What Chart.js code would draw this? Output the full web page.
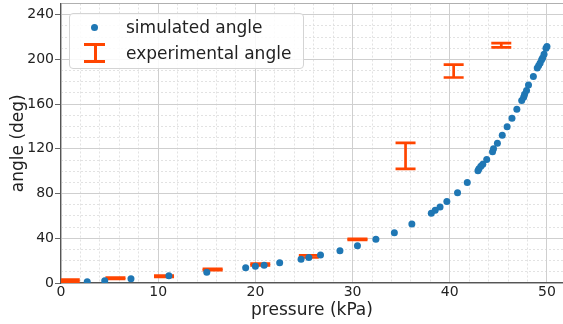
<!DOCTYPE html>
<html>
<head>
<meta charset="utf-8">
<script src="https://cdn.jsdelivr.net/npm/chart.js@4/dist/chart.umd.min.js"></script>
<style>
  body { margin: 0; background: #fff; }
  #wrap { position: relative; width: 563px; height: 324px; }
  #legend {
    position: absolute; left: 69px; top: 13px; width: 233px; height: 54px;
    border: 1px solid #d4d4d4; border-radius: 4px; background: rgba(255,255,255,0.85);
    font-family: 'DejaVu Sans', sans-serif; font-size: 17px; color: #222;
  }
  .item { position: absolute; left: 56px; line-height: 20px; white-space: nowrap; }
  .dot { position: absolute; left: 21px; top: 10px; width: 7px; height: 7px; border-radius: 50%; background: #1f77b4; }
  .eb { position: absolute; background: #ff4500; }
</style>
</head>
<body>
<div id="wrap">
  <canvas id="chart" width="563" height="324"></canvas>
  <div id="legend">
    <div class="dot"></div>
    <div class="item" style="top:3px">simulated angle</div>
    <div class="eb" style="left:14px; top:29px; width:21px; height:3px"></div>
    <div class="eb" style="left:23.5px; top:30px; width:3px; height:18px"></div>
    <div class="eb" style="left:14px; top:46px; width:21px; height:3px"></div>
    <div class="item" style="top:29px">experimental angle</div>
  </div>
</div>
<script>
// simulated angle vs pressure
const simPressure = [2.7, 4.5, 7.2, 11.1, 15.0, 19.0, 20.0, 20.9, 22.5, 24.7, 25.5, 26.7, 28.7, 30.5, 32.4, 34.3, 36.1,
  38.1, 38.5, 39.0, 39.7, 40.8, 41.8, 42.9, 43.0, 43.2, 43.4, 43.8, 44.4, 44.5, 44.9, 45.4, 45.9, 46.4, 46.9,
  47.4, 47.6, 47.7, 47.9, 48.1, 48.6, 49.0, 49.15, 49.3, 49.45, 49.55, 49.7, 49.9, 50.0];
const simAngle = [1.2, 2.0, 3.9, 6.5, 9.6, 13.7, 14.9, 15.8, 18.2, 21.2, 22.7, 25.1, 28.9, 33.4, 39.1, 45.0, 52.8,
  62.4, 65.1, 68.0, 72.8, 80.8, 89.8, 100.3, 102.2, 104.4, 106.3, 110.5, 117.5, 120.0, 125.0, 132.2, 139.7, 147.4, 155.5,
  163.2, 166.2, 168.9, 172.2, 177.0, 184.7, 192.2, 194.6, 196.7, 199.6, 201.2, 204.7, 210.0, 211.5];

// experimental angle: min / max of each measurement
const expPressure = [0.9, 5.6, 10.6, 15.6, 20.5, 25.5, 30.5, 35.45, 40.4, 45.3];
const expLow  = [1.0, 3.6, 5.5, 11.6, 15.8, 22.8, 38.5, 102.0, 183.8, 210.7];
const expHigh = [3.0, 4.8, 6.6, 12.6, 17.4, 24.8, 39.5, 125.3, 195.4, 214.6];

const xTicks = [0, 10, 20, 30, 40, 50];
const yTicks = [0, 40, 80, 120, 160, 200, 240];

const simPoints = simPressure.map((p, i) => ({ x: p, y: simAngle[i] }));
const expPoints = [];
expPressure.forEach((p, i) => {
  expPoints.push({ x: p, y: expLow[i] }, { x: p, y: expHigh[i] }, { x: p, y: null });
});

const font = { family: 'DejaVu Sans', size: 14 };
const titleFont = { family: 'DejaVu Sans', size: 17 };

// axes keep a fixed size, no extra padding for labels
const fixSize = (w, h) => s => {
  if (w !== null) s.width = w;
  if (h !== null) s.height = h;
  s.paddingTop = s.paddingBottom = s.paddingLeft = s.paddingRight = 0;
};

const minorAxis = (pos, step, min, max) => ({
  type: 'linear', position: pos, min: min, max: max,
  afterFit: pos === 'bottom' ? fixSize(null, 0) : fixSize(0, null),
  ticks: { display: false, stepSize: step, includeBounds: false },
  grid: { color: '#e2e2e2', lineWidth: 1, drawTicks: false },
  border: { display: false, dash: [2, 2] }
});

new Chart(document.querySelector('#chart'), {
  type: 'scatter',
  data: {
    datasets: [{
      label: 'simulated angle',
      data: simPoints,
      order: 0,
      pointRadius: 3.5,
      pointBorderWidth: 0,
      backgroundColor: '#1f77b4',
      borderColor: '#1f77b4'
    }, {
      label: 'experimental angle',
      data: expPoints,
      order: 1,
      showLine: true,
      spanGaps: false,
      borderColor: '#ff4500',
      borderWidth: 2.7,
      pointStyle: 'line',
      pointRadius: 10,
      pointBorderWidth: 2.7,
      pointBorderColor: '#ff4500',
      pointBackgroundColor: '#ff4500'
    }]
  },
  options: {
    responsive: false,
    animation: false,
    devicePixelRatio: 1,
    layout: { autoPadding: false, padding: { top: 3.5, right: 0, bottom: 0, left: 0 } },
    plugins: { legend: { display: false }, tooltip: { enabled: false } },
    scales: {
      x2: minorAxis('bottom', 2, 0, 51.65),
      y2: minorAxis('left', 10, 0, 250),
      xTop: {
        type: 'linear', position: 'top', min: 0, max: 51.65,
        afterFit: fixSize(null, 0),
        ticks: { display: false },
        grid: { display: false },
        border: { display: true, color: '#b0b0b0', width: 1 }
      },
      x: {
        type: 'linear', position: 'bottom', min: 0, max: 51.65,
        afterFit: fixSize(null, 41),
        afterBuildTicks: s => { s.ticks = xTicks.map(v => ({ value: v })); },
        ticks: { font: font, color: '#222', padding: 1, maxRotation: 0 },
        grid: { color: '#cfcfcf', lineWidth: 1, drawTicks: false },
        border: { color: '#555', width: 1.2 },
        title: { display: true, text: 'pressure (kPa)', font: titleFont, color: '#222', padding: { top: 0, bottom: 3 } }
      },
      y: {
        type: 'linear', position: 'left', min: 0, max: 250,
        afterFit: fixSize(61, null),
        afterBuildTicks: s => { s.ticks = yTicks.map(v => ({ value: v })); },
        ticks: { font: font, color: '#222', padding: 1 },
        grid: { color: '#cfcfcf', lineWidth: 1, drawTicks: true, tickLength: 6, tickColor: '#666' },
        border: { color: '#555', width: 1.2 },
        title: { display: true, text: 'angle (deg)', font: titleFont, color: '#222', padding: { top: 8, bottom: 0 } }
      }
    }
  }
});
</script>
</body>
</html>
